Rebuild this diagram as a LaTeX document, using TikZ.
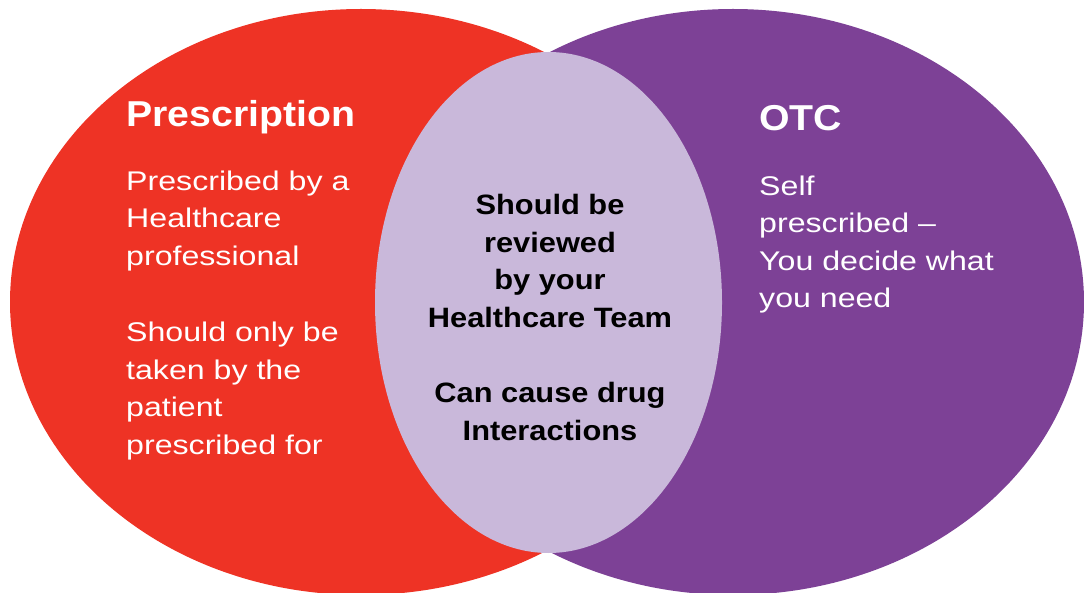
\documentclass[tikz,border=0pt]{standalone}
\usepackage{fontspec}
\newfontfamily\regfont[FakeStretch=1.19]{Liberation Sans}
\newfontfamily\bldfont[FakeStretch=1.1]{Liberation Sans}
\newfontfamily\hdfont[FakeStretch=1.09]{Liberation Sans}
\definecolor{rxred}{HTML}{EE3325}
\definecolor{otcpurple}{HTML}{7D4196}
\definecolor{lens}{HTML}{C9B8DA}
\tikzset{
  heading/.style={anchor=base west, inner sep=0pt, text=white, font=\hdfont\bfseries\fontsize{36}{40}\selectfont},
  bodyline/.style={anchor=base west, inner sep=0pt, text=white, font=\regfont\fontsize{27}{31}\selectfont},
  midline/.style={anchor=base, inner sep=0pt, text=black, font=\bldfont\bfseries\fontsize{28}{32}\selectfont},
}
\begin{document}
\begin{tikzpicture}[x=1pt,y=-1pt]
\useasboundingbox (0,0) rectangle (1084,593);
\fill[rxred] (361,302) ellipse [x radius=351, y radius=293];
\fill[otcpurple] (733,302) ellipse [x radius=351, y radius=293];
\fill[lens] (548.5,302.5) ellipse [x radius=173.5, y radius=250.5];
% left
\node[heading] (rxh) at (126,127) {Prescription};
\node[bodyline] (l1) at (126,190.5) {Prescribed by a};
\node[bodyline] (l2) at (126,228) {Healthcare};
\node[bodyline] (l3) at (126,265.5) {professional};
\node[bodyline] (l4) at (126,341.5) {Should only be};
\node[bodyline] (l5) at (126,379) {taken by the};
\node[bodyline] (l6) at (126,416.5) {patient};
\node[bodyline] (l7) at (126,454) {prescribed for};
% middle
\node[midline] (m1) at (550,215) {Should be};
\node[midline] (m2) at (550,252.5) {reviewed};
\node[midline] (m3) at (550,290) {by your};
\node[midline] (m4) at (550,327.5) {Healthcare Team};
\node[midline] (m5) at (550,402.5) {Can cause drug};
\node[midline] (m6) at (550,440) {Interactions};
% right
\node[heading] (otch) at (759,131) {OTC};
\node[bodyline] (r1) at (759,195.5) {Self};
\node[bodyline] (r2) at (759,233) {prescribed –};
\node[bodyline] (r3) at (759,270.5) {You decide what};
\node[bodyline] (r4) at (759,308) {you need};
\end{tikzpicture}
\end{document}
